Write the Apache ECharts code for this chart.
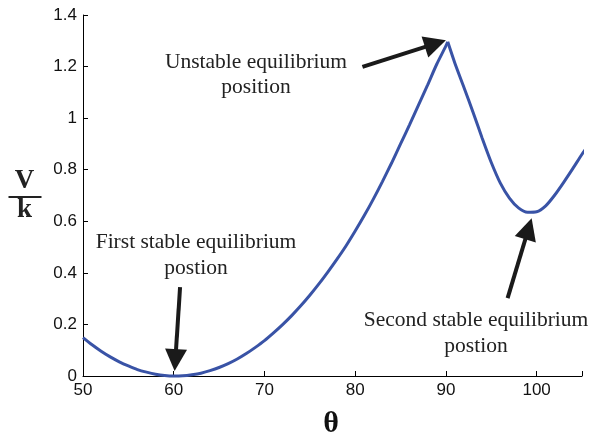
<!DOCTYPE html>
<html>
<head>
<meta charset="utf-8">
<script src="https://cdn.jsdelivr.net/npm/echarts@6/dist/echarts.min.js"></script>
<style>
html,body{margin:0;padding:0;background:#fff;}
#c{width:589px;height:437px;}
</style>
</head>
<body>
<div id="c"></div>
<script>
// theta (degrees) and V/k values
var thetaVals = [50,51,52,53,54,55,56,57,58,59,60,61,62,63,64,65,66,67,68,69,70,
  71,72,73,74,75,76,77,78,79,80,81,82,83,84,85,86,87,88,89,90,90.2,
  91,92,93,94,95,96,97,98,99,100,101,102,103,104,105,105.7];
var vVals = [0.149,0.121,0.096,0.074,0.055,0.039,0.025,0.015,0.007,0.002,0.000,0.001,0.005,0.011,0.021,0.033,0.048,0.066,0.087,0.111,0.137,
  0.167,0.199,0.234,0.272,0.313,0.357,0.404,0.453,0.505,0.562,0.622,0.686,0.754,0.825,0.900,0.975,1.052,1.130,1.210,1.280,1.296,
  1.212,1.118,1.022,0.922,0.828,0.748,0.690,0.652,0.635,0.637,0.660,0.702,0.752,0.805,0.860,0.895];
var peakTheta = 90.2;
var xTicks = [50,60,70,80,90,100];
var yTicks = [0,0.2,0.4,0.6,0.8,1,1.2,1.4];
// arrows: [tailTheta, tailV, tipTheta, tipV]
var arrows = [
  [60.7, 0.345, 60.1, 0.019],
  [80.8, 1.199, 90.0, 1.302],
  [96.8, 0.302, 99.45, 0.612]
];
var annotations = [
  ["Unstable equilibrium", "position"],
  ["First stable equilibrium", "postion"],
  ["Second stable equilibrium", "postion"]
];

var chart = echarts.init(document.getElementById('c'), null, {renderer:'canvas'});
var serif = '"Liberation Serif","Times New Roman",serif';
var sans = '"Liberation Sans",Arial,sans-serif';
var headSize = 22;
var curveColor = '#3953a6';

var allData = thetaVals.map(function(t,i){return [t, vVals[i]];});
var leftData = allData.filter(function(p){return p[0] <= peakTheta;});
var rightData = allData.filter(function(p){return p[0] >= peakTheta;});

function annText(x, y, s){
  return {type:'text',x:x,y:y,style:{text:s,font:'21.5px '+serif,fill:'#222',textAlign:'center',textVerticalAlign:'middle'}};
}
function branch(d){
  return {type:'line',data:d,showSymbol:false,clip:false,smooth:0.25,
    lineStyle:{color:curveColor,width:3}};
}

var option = {
  animation:false,
  backgroundColor:'#fff',
  grid:{left:83,right:7,top:15,bottom:61,containLabel:false},
  xAxis:{
    type:'value',min:50,max:105,interval:10,
    axisLine:{show:true,lineStyle:{color:'#000',width:1}},
    axisTick:{show:true,inside:true,length:5,lineStyle:{color:'#000'}},
    axisLabel:{color:'#111',fontFamily:sans,fontSize:17,margin:6,
      formatter:function(v){return xTicks.indexOf(v)>=0?String(v):'';}},
    splitLine:{show:false}
  },
  yAxis:{
    type:'value',min:0,max:1.4,interval:0.2,
    axisLine:{show:true,lineStyle:{color:'#000',width:1}},
    axisTick:{show:true,inside:true,length:5,lineStyle:{color:'#000'}},
    axisLabel:{color:'#111',fontFamily:sans,fontSize:17,margin:6,
      formatter:function(v){var r=Math.round(v*10)/10;return yTicks.indexOf(r)>=0?String(r):'';}},
    splitLine:{show:false}
  },
  series:[branch(leftData), branch(rightData)],
  graphic:[
    {type:'text',x:331,y:424,style:{text:'θ',font:'bold 30px '+serif,fill:'#111',textAlign:'center',textVerticalAlign:'middle'}},
    {type:'group',left:6,top:168,children:[
      {type:'text',x:17,y:0,style:{text:'V',font:'bold 27px '+serif,fill:'#222',textAlign:'center'}},
      {type:'line',shape:{x1:1,y1:29,x2:34,y2:29},style:{stroke:'#222',lineWidth:2}},
      {type:'text',x:17,y:29,style:{text:'k',font:'bold 27px '+serif,fill:'#222',textAlign:'center'}}
    ]},
    annText(256, 62, annotations[0][0]),
    annText(256, 87, annotations[0][1]),
    annText(196, 242, annotations[1][0]),
    annText(196, 268, annotations[1][1]),
    annText(476, 320, annotations[2][0]),
    annText(476, 346, annotations[2][1])
  ]
};
chart.setOption(option);

// place arrow heads so that the tip (not the centre) of the head lands on the target point
var mlData = arrows.map(function(a){
  var p0 = chart.convertToPixel({seriesIndex:0},[a[0],a[1]]);
  var p1 = chart.convertToPixel({seriesIndex:0},[a[2],a[3]]);
  var dx = p1[0]-p0[0], dy = p1[1]-p0[1];
  var L = Math.sqrt(dx*dx+dy*dy);
  var pe = [p1[0]-dx/L*headSize/2, p1[1]-dy/L*headSize/2];
  var end = chart.convertFromPixel({seriesIndex:0}, pe);
  return [{coord:[a[0],a[1]]},{coord:end}];
});
chart.setOption({series:[{markLine:{
  silent:true,
  symbol:['none','triangle'],
  symbolSize:[headSize,headSize],
  label:{show:false},
  lineStyle:{color:'#1a1a1a',width:4,type:'solid'},
  data:mlData
}}]});
</script>
</body>
</html>
